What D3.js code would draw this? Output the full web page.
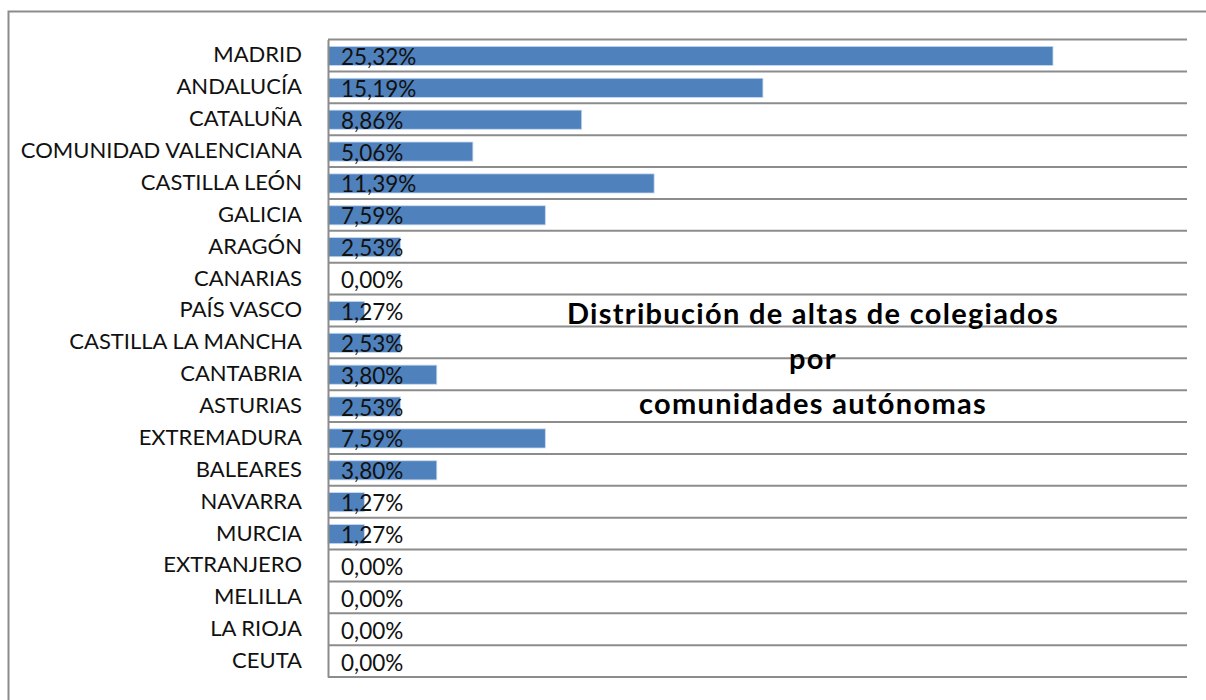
<!DOCTYPE html>
<html lang="es">
<head>
<meta charset="UTF-8">
<title>Distribución de altas de colegiados</title>
<script src="https://cdn.jsdelivr.net/npm/d3@7"></script>
<style>
  body { margin: 0; background: #fff; }
  svg { display: block; }
</style>
</head>
<body>
<svg width="1206" height="700"></svg>
<script>
// datos
const categories = ["MADRID", "ANDALUCÍA", "CATALUÑA", "COMUNIDAD VALENCIANA", "CASTILLA LEÓN",
  "GALICIA", "ARAGÓN", "CANARIAS", "PAÍS VASCO", "CASTILLA LA MANCHA", "CANTABRIA",
  "ASTURIAS", "EXTREMADURA", "BALEARES", "NAVARRA", "MURCIA", "EXTRANJERO",
  "MELILLA", "LA RIOJA", "CEUTA"];
const values = [25.32, 15.19, 8.86, 5.06, 11.39, 7.59, 2.53, 0.00, 1.27, 2.53, 3.80,
  2.53, 7.59, 3.80, 1.27, 1.27, 0.00, 0.00, 0.00, 0.00];
const titleLines = ["Distribución de altas de colegiados", "por", "comunidades autónomas"];
const xMax = 30;

const svg = d3.select("svg");
const font = "Lato, 'Open Sans', sans-serif";

// marco exterior
svg.append("rect")
  .attr("x", 8.5).attr("y", 11.5)
  .attr("width", 1300).attr("height", 800)
  .attr("fill", "#fff")
  .attr("stroke", "#8c8c8c")
  .attr("stroke-width", 2);

const plot = { left: 328, right: 1187, top: 39.5, bottom: 677 };

const x = d3.scaleLinear().domain([0, xMax]).range([plot.left, plot.right]);
const y = d3.scaleBand().domain(categories).range([plot.top, plot.bottom])
  .paddingInner(0.4).paddingOuter(0.2);
const step = y.step();

// líneas de división horizontales
const gridYs = categories.map(c => y(c) - step * y.paddingInner() / 2);
gridYs.push(plot.bottom);
svg.append("g").selectAll("line").data(gridYs).join("line")
  .attr("x1", plot.left).attr("x2", plot.right)
  .attr("y1", d => d).attr("y2", d => d)
  .attr("stroke", "#8c8c8c").attr("stroke-width", 2);

// barras
svg.append("g").selectAll("rect").data(values).join("rect")
  .attr("x", x(0))
  .attr("y", (d, i) => y(categories[i]) + 0.5)
  .attr("width", d => x(d) - x(0))
  .attr("height", y.bandwidth())
  .attr("fill", "#4f81bd")
  .attr("stroke", d => d > 0 ? "#c6d9f1" : "none")
  .attr("stroke-width", 0.8);

// eje de categorías
const yAxis = svg.append("g")
  .attr("transform", `translate(${plot.left},0)`)
  .call(d3.axisLeft(y).tickSize(0).tickPadding(26));
yAxis.select(".domain").attr("stroke", "#8c8c8c").attr("stroke-width", 2);
yAxis.selectAll("text")
  .attr("font-family", font)
  .attr("font-size", 22)
  .attr("fill", "#111");

// etiquetas de datos
svg.append("g").selectAll("text").data(values).join("text")
  .attr("x", x(0) + 13)
  .attr("y", (d, i) => y(categories[i]) + y.bandwidth() / 2 + 1)
  .attr("dominant-baseline", "central")
  .attr("font-family", font)
  .attr("font-size", 22.5)
  .attr("fill", "#111")
  .text(d => d.toFixed(2).replace(".", ",") + "%");

// título
svg.append("g").selectAll("text").data(titleLines).join("text")
  .attr("x", 813)
  .attr("y", (d, i) => 324 + i * 45)
  .attr("text-anchor", "middle")
  .attr("font-family", font)
  .attr("font-weight", "bold")
  .attr("font-size", 29)
  .attr("letter-spacing", 1.3)
  .attr("fill", "#000")
  .text(d => d);
</script>
</body>
</html>
